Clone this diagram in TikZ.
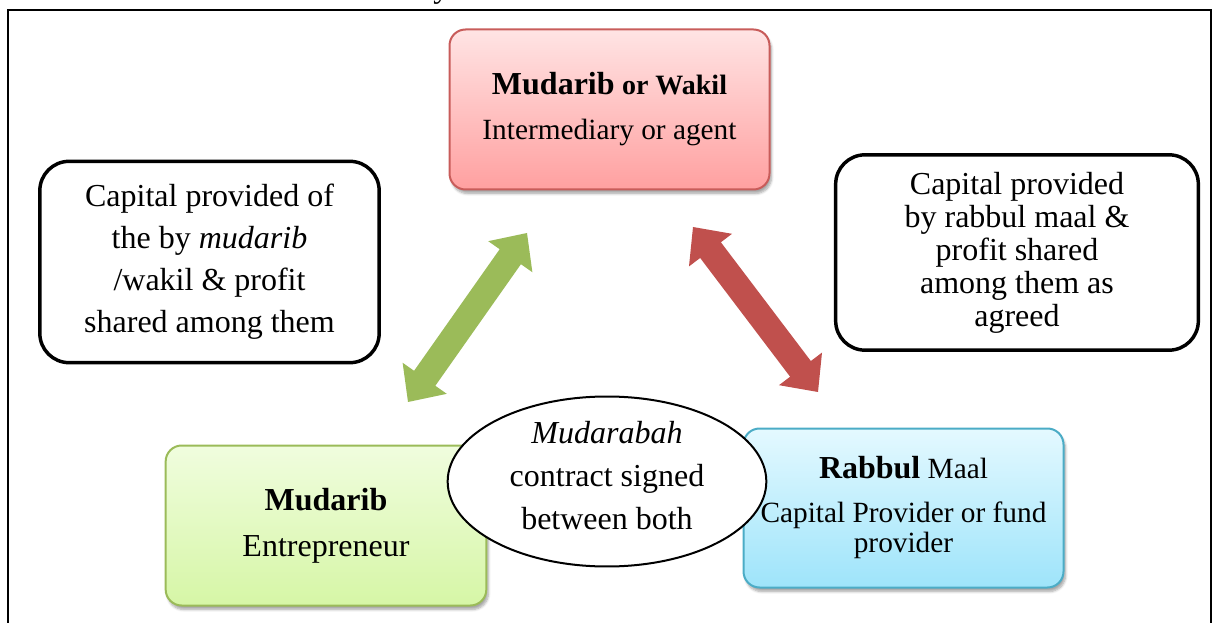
\documentclass[tikz,border=0pt]{standalone}
\usepackage{fontspec}
\setmainfont{Liberation Serif}
\usetikzlibrary{calc,shapes.geometric,shadows.blur}

\definecolor{agentline}{RGB}{200,92,90}
\definecolor{agenttop}{RGB}{255,228,228}
\definecolor{agentbottom}{RGB}{255,160,160}
\definecolor{entline}{RGB}{155,187,89}
\definecolor{enttop}{RGB}{240,253,222}
\definecolor{entbottom}{RGB}{214,246,166}
\definecolor{capline}{RGB}{75,172,198}
\definecolor{captop}{RGB}{228,249,255}
\definecolor{capbottom}{RGB}{158,228,250}
\definecolor{greenarrow}{RGB}{155,187,89}
\definecolor{redarrow}{RGB}{192,80,77}

% double-headed block arrow between two named tip coordinates
\newcommand\dblblockarrow[3]{%
  \coordinate (#1-base) at ($(#1)!21.75pt!(#2)$);
  \coordinate (#2-base) at ($(#2)!21.75pt!(#1)$);
  \fill[#3] (#1)
    -- ($(#1-base)!20.25pt!90:(#2)$)
    -- ($(#1-base)!9.75pt!90:(#2)$)
    -- ($(#2-base)!9.75pt!-90:(#1)$)
    -- ($(#2-base)!20.25pt!-90:(#1)$)
    -- (#2)
    -- ($(#2-base)!20.25pt!90:(#1)$)
    -- ($(#2-base)!9.75pt!90:(#1)$)
    -- ($(#1-base)!9.75pt!-90:(#2)$)
    -- ($(#1-base)!20.25pt!-90:(#2)$)
    -- cycle;}

\tikzset{
  rolebox/.style={rectangle, rounded corners=12pt, line width=1.5pt,
    inner sep=0pt, align=center,
    blur shadow={shadow xshift=1.5pt, shadow yshift=-3pt,
                 shadow opacity=35, shadow blur steps=6}},
  notebox/.style={rectangle, rounded corners=22pt, line width=2.6pt,
    draw=black, fill=white, inner sep=0pt, align=center},
  frameline/.style={line width=2pt, draw=black}
}

\begin{document}
\begin{tikzpicture}[x=0.75pt, y=-0.75pt]
\useasboundingbox (0,0) rectangle (1217,623);

% outer frame, open at the bottom
\draw[frameline] (8,640) -- (8,10) -- (1211,10) -- (1211,640);
% tail of the caption line above the frame
\node[anchor=base west, inner sep=0pt, font=\fontsize{24}{24}\selectfont]
  (captiontail) at (433,-2) {y};

% explanatory notes
\node[notebox, minimum width=254.5pt, minimum height=151pt,
      font=\fontsize{24}{31.5}\selectfont] (leftnote) at (209.5,262)
  {Capital provided of\\the by \textit{mudarib}\\/wakil \& profit\\shared among them};
\node[notebox, minimum width=272pt, minimum height=146.5pt,
      font=\fontsize{24}{24.75}\selectfont] (rightnote) at (1017,252.5)
  {Capital provided\\by rabbul maal \&\\profit shared\\among them as\\agreed};

% arrows between the parties
\coordinate (g1) at (408,402);
\coordinate (g2) at (527,233);
\coordinate (r1) at (693,227);
\coordinate (r2) at (818,392);
\dblblockarrow{g1}{g2}{greenarrow}
\dblblockarrow{r1}{r2}{redarrow}

% the three parties
\node[rolebox, draw=agentline, top color=agenttop, bottom color=agentbottom,
      minimum width=240pt, minimum height=120pt,
      font=\fontsize{22}{33.75}\selectfont] (agent) at (609.5,109.5)
  {{\fontsize{24}{33.75}\selectfont\bfseries Mudarib}
   {\fontsize{21}{33.75}\selectfont\bfseries or Wakil}\\Intermediary or agent};
\node[rolebox, draw=entline, top color=enttop, bottom color=entbottom,
      minimum width=240.5pt, minimum height=120pt,
      font=\fontsize{24}{34.5}\selectfont] (entrepreneur) at (326,525.5)
  {\textbf{Mudarib}\\Entrepreneur};
\node[rolebox, draw=capline, top color=captop, bottom color=capbottom,
      minimum width=240pt, minimum height=119.25pt,
      font=\fontsize{22}{22.5}\selectfont] (provider) at (903.5,508)
  {{\fontsize{24}{22.5}\selectfont\bfseries Rabbul} Maal\\[10.5pt]
   Capital Provider or fund\\provider};

% the contract
\node[ellipse, draw=black, line width=1.5pt, fill=white, inner sep=0pt,
      minimum width=239pt, minimum height=125.5pt, align=center,
      text depth=9pt, font=\fontsize{24}{32.25}\selectfont] (contract) at (607,481.5)
  {\textit{Mudarabah}\\contract signed\\between both};
\end{tikzpicture}
\end{document}
